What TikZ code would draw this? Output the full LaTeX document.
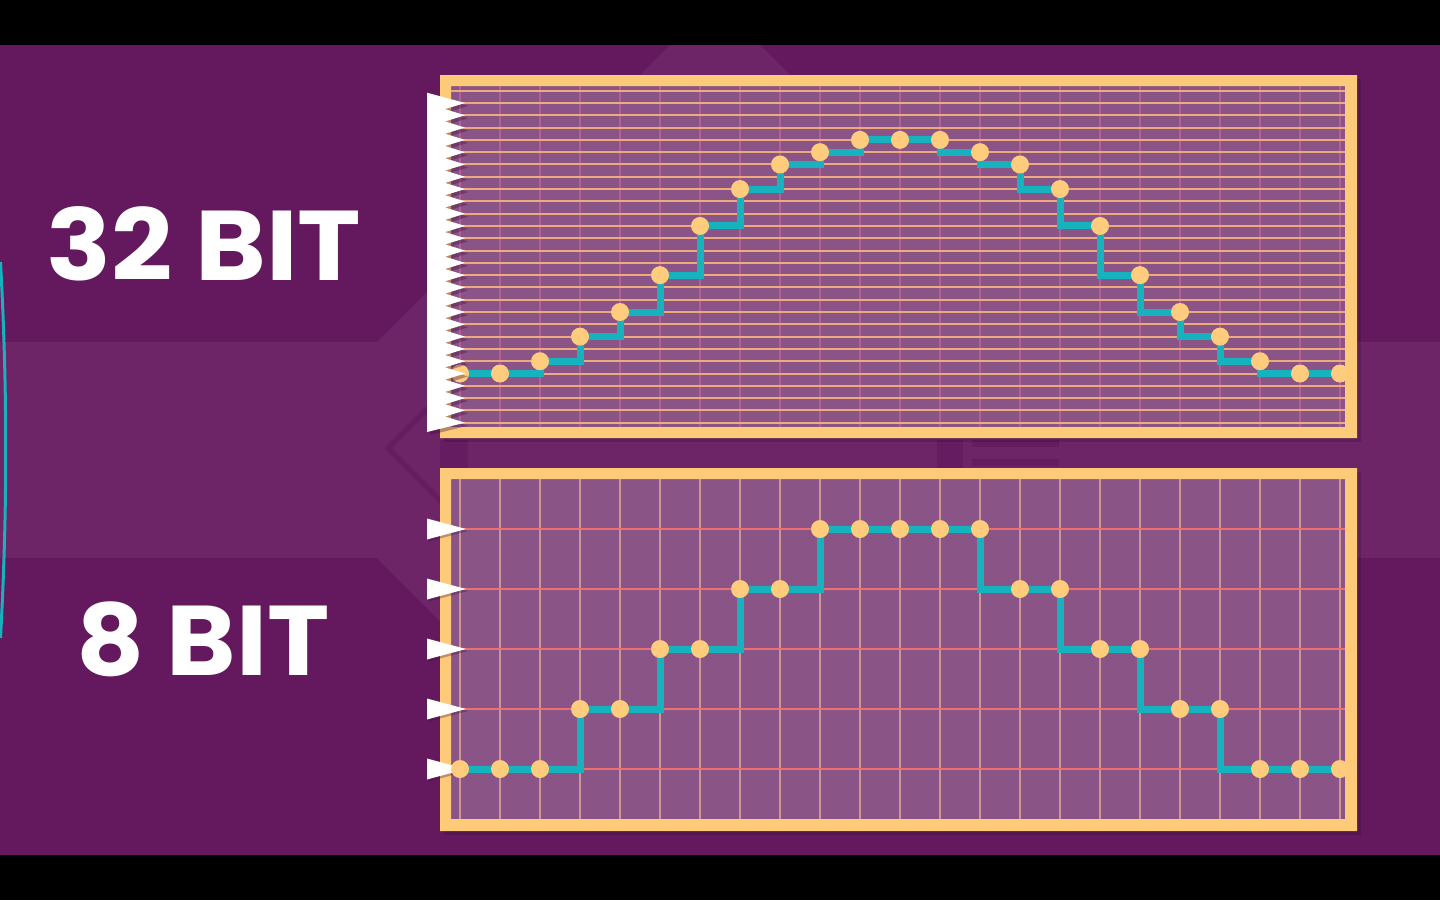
\documentclass[tikz,border=0pt]{standalone}
\usepackage{fontspec}
\newfontfamily\bitfont{Poppins}
\definecolor{bgdark}{RGB}{100,25,94}
\definecolor{bglight}{RGB}{110,37,104}
\definecolor{bgdeep}{RGB}{102,28,96}
\definecolor{panelfill}{RGB}{139,84,134}
\definecolor{framec}{RGB}{253,202,122}
\definecolor{dotc}{RGB}{254,204,124}
\definecolor{wavec}{RGB}{22,178,190}
\definecolor{topH}{RGB}{236,170,125}
\definecolor{topV}{RGB}{180,95,150}
\definecolor{botH}{RGB}{236,112,112}
\definecolor{botV}{RGB}{205,150,150}
\definecolor{shadowc}{RGB}{60,8,55}
\begin{document}
\begin{tikzpicture}[x=1pt,y=-1pt,
  hlineT/.style={draw=topH,line width=2pt},
  vlineT/.style={draw=topV,line width=1.4pt},
  hlineB/.style={draw=botH,line width=2pt},
  vlineB/.style={draw=botV,line width=1.4pt},
  wave/.style={draw=wavec,line width=7pt,line join=miter},
  sample/.style={circle,fill=dotc,minimum size=18pt,inner sep=0pt},
  bitlabel/.style={font=\bitfont\bfseries\fontsize{99}{99}\selectfont,text=white,inner sep=0pt,anchor=base west}]
\useasboundingbox (0,0) rectangle (1440,900);
% background
\fill[bgdark] (0,45) rectangle (1440,855);
\fill[bglight] (0,342) rectangle (1440,558);
\fill[bglight] (377,342) -- (440,279) -- (440,621) -- (377,558) -- cycle;
\fill[bglight] (670,45) -- (760,45) -- (790,75) -- (640,75) -- cycle;
\fill[bgdeep] (384,448) -- (440,392) -- (440,400) -- (392,448) -- (440,496) -- (440,504) -- cycle;
\fill[bgdeep] (440,440) rectangle (468,468);
\fill[bgdeep] (937,440) rectangle (963,468);
\fill[bgdeep] (972,440) rectangle (1059,447);
\fill[bgdeep] (972,459) rectangle (1059,466);
\fill[black] (0,0) rectangle (1440,45);
\fill[black] (0,855) rectangle (1440,900);
\draw[wavec,line width=3pt] (0.5,262) .. controls (7.5,390) and (7.5,510) .. (0.5,638);
% labels
\node[bitlabel] (l32) at (46,280) {\scalebox{1.085}[1]{32 BIT}};
\node[bitlabel] (l8) at (76,675) {\scalebox{1.065}[1]{8 BIT}};
% ---------- top panel ----------
\fill[black,opacity=0.15] (444,79) rectangle (1361,442);
\fill[panelfill] (451,86) rectangle (1345,427);
\def\toplev{{23,23,22,20,18,15,11,8,6,5,4,4,4,5,6,8,11,15,18,20,22,23,23}}
\begin{scope}
  \clip (451,86) rectangle (1345,427);
  \foreach \k in {0,...,22} \draw[vlineT] (460+40*\k,86) -- (460+40*\k,427);
  \foreach \k in {0,...,27} \draw[hlineT] (451,{90.7+12.296*\k}) -- (1345,{90.7+12.296*\k});
  \foreach \i in {0,...,22} {
    \pgfmathtruncatemacro\lv{\toplev[\i]}
    \coordinate (tp\i) at ({460+40*\i},{90.7+12.296*\lv});
  }
  \foreach \i in {0,...,21} {
    \pgfmathtruncatemacro\j{\i+1}
    \pgfmathtruncatemacro\a{\toplev[\i]}
    \pgfmathtruncatemacro\b{\toplev[\j]}
    \ifnum\b<\a \draw[wave] (tp\i) -| (tp\j);
    \else\ifnum\b>\a \draw[wave] (tp\i) |- (tp\j);
    \else \draw[wave] (tp\i) -- (tp\j);
    \fi\fi
  }
  \foreach \i in {0,...,22} \node[sample] (t\i) at (tp\i) {};
\end{scope}
\fill[framec,even odd rule] (440,75) rectangle (1357,438) (451,86) rectangle (1345,427);
\begin{scope}[shift={(3,3)}]
  \fill[shadowc,opacity=0.35] (427,92.7) \foreach \k in {1,...,26} { -- (465,{90.7+12.296*\k}) -- (445,{90.7+12.296*(\k+0.5)}) } -- (465,{90.7+12.296*27}) -- (427,432) -- cycle;
\end{scope}
\fill[white] (427,92.7) \foreach \k in {1,...,26} { -- (465,{90.7+12.296*\k}) -- (445,{90.7+12.296*(\k+0.5)}) } -- (465,{90.7+12.296*27}) -- (427,432) -- cycle;
% ---------- bottom panel ----------
\fill[black,opacity=0.15] (444,472) rectangle (1361,835);
\fill[panelfill] (451,479) rectangle (1345,819);
\def\botlev{{4,4,4,3,3,2,2,1,1,0,0,0,0,0,1,1,2,2,3,3,4,4,4}}
\begin{scope}
  \clip (451,479) rectangle (1345,819);
  \foreach \k in {0,...,22} \draw[vlineB] (460+40*\k,479) -- (460+40*\k,819);
  \foreach \k in {0,...,4} \draw[hlineB] (451,529+60*\k) -- (1345,529+60*\k);
\end{scope}
\fill[framec,even odd rule] (440,468) rectangle (1357,831) (451,479) rectangle (1345,819);
\foreach \k in {0,...,4} {
  \fill[shadowc,opacity=0.3] (429,{529+60*\k-8.5}) -- (468,{529+60*\k+2}) -- (429,{529+60*\k+12.5}) -- cycle;
  \fill[white] (427,{529+60*\k-10.5}) -- (466,{529+60*\k}) -- (427,{529+60*\k+10.5}) -- cycle;
}
\begin{scope}
  \clip (451,479) rectangle (1345,819);
  \foreach \i in {0,...,22} {
    \pgfmathtruncatemacro\lv{\botlev[\i]}
    \coordinate (bp\i) at ({460+40*\i},{529+60*\lv});
  }
  \foreach \i in {0,...,21} {
    \pgfmathtruncatemacro\j{\i+1}
    \pgfmathtruncatemacro\a{\botlev[\i]}
    \pgfmathtruncatemacro\b{\botlev[\j]}
    \ifnum\b<\a \draw[wave] (bp\i) -| (bp\j);
    \else\ifnum\b>\a \draw[wave] (bp\i) |- (bp\j);
    \else \draw[wave] (bp\i) -- (bp\j);
    \fi\fi
  }
  \foreach \i in {0,...,22} \node[sample] (b\i) at (bp\i) {};
\end{scope}
\end{tikzpicture}
\end{document}
